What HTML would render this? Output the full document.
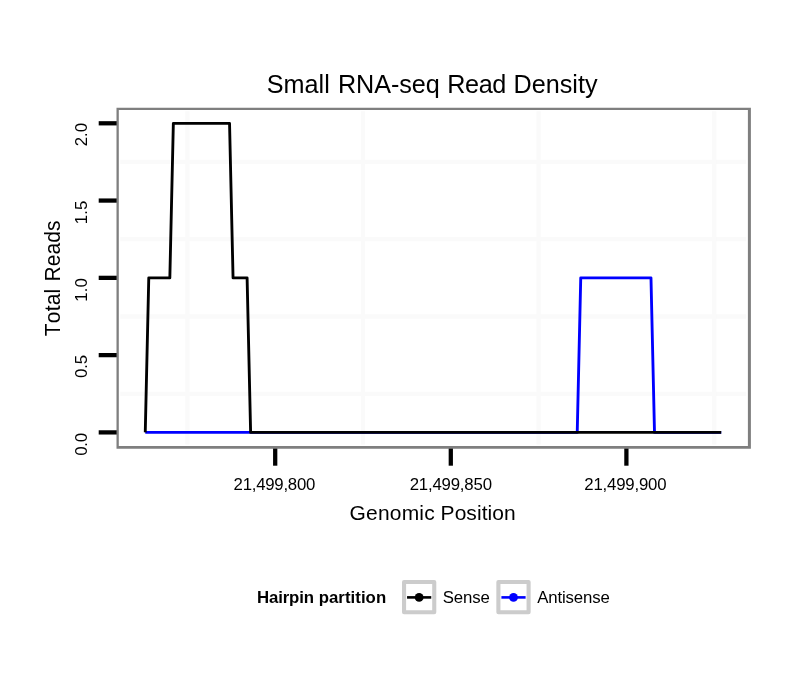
<!DOCTYPE html>
<html lang="en"><head><meta charset="utf-8"><title>Small RNA-seq Read Density</title>
<style>html,body{margin:0;padding:0;background:#fff}svg{display:block}text{font-family:"Liberation Sans",Arial,Helvetica,sans-serif;fill:#000;font-kerning:none;white-space:pre}</style></head><body>
<svg width="810" height="690" viewBox="0 0 810 690">
<rect width="810" height="690" fill="#fff"/>
<g stroke="#fafafa" stroke-width="4.27" fill="none">
<line x1="120.2" x2="746.2" y1="393.76" y2="393.76"/>
<line x1="120.2" x2="746.2" y1="316.49" y2="316.49"/>
<line x1="120.2" x2="746.2" y1="239.21" y2="239.21"/>
<line x1="120.2" x2="746.2" y1="161.94" y2="161.94"/>
<line y1="111.3" y2="444.6" x1="187.4" x2="187.4"/>
<line y1="111.3" y2="444.6" x1="363.0" x2="363.0"/>
<line y1="111.3" y2="444.6" x1="538.6" x2="538.6"/>
<line y1="111.3" y2="444.6" x1="714.2" x2="714.2"/>
</g>
<polyline points="145.26,432.4 577.23,432.4 580.74,277.85 650.98,277.85 654.5,432.4 721.22,432.4" fill="none" stroke="#0000ff" stroke-width="2.85" stroke-linejoin="round" stroke-linecap="butt"/>
<polyline points="145.26,432.4 148.77,277.85 169.84,277.85 173.35,123.3 229.54,123.3 233.06,277.85 247.1,277.85 250.62,432.4 721.22,432.4" fill="none" stroke="#000" stroke-width="2.85" stroke-linejoin="round" stroke-linecap="butt"/>
<g stroke="#000" stroke-width="4.27">
<line x1="98.7" x2="117" y1="432.4" y2="432.4"/>
<line x1="98.7" x2="117" y1="355.12" y2="355.12"/>
<line x1="98.7" x2="117" y1="277.85" y2="277.85"/>
<line x1="98.7" x2="117" y1="200.57" y2="200.57"/>
<line x1="98.7" x2="117" y1="123.3" y2="123.3"/>
<line y1="447.4" y2="465.7" x1="275.2" x2="275.2"/>
<line y1="447.4" y2="465.7" x1="450.8" x2="450.8"/>
<line y1="447.4" y2="465.7" x1="626.4" x2="626.4"/>
</g>
<path d="M116.5 107.8H750.9V448.8H116.5Z M118.8 110V445.9H747.9V110Z" fill="#7f7f7f" fill-rule="evenodd"/>
<text transform="translate(87.0,0) rotate(-90) scale(1,0.93)" y="0" font-size="16.8"><tspan x="-455.86" letter-spacing="-0.221">0.0</tspan></text>
<text transform="translate(87.0,0) rotate(-90) scale(1,0.93)" y="0" font-size="16.8"><tspan x="-377.98" letter-spacing="-0.146">0.5</tspan></text>
<text transform="translate(87.0,0) rotate(-90) scale(1,0.93)" y="0" font-size="16.8"><tspan x="-301.68" letter-spacing="0.141">1.0</tspan></text>
<text transform="translate(87.0,0) rotate(-90) scale(1,0.93)" y="0" font-size="16.8"><tspan x="-224.25" letter-spacing="0.165">1.5</tspan></text>
<text transform="translate(87.0,0) rotate(-90) scale(1,0.93)" y="0" font-size="16.8"><tspan x="-146.24" letter-spacing="-0.077">2.0</tspan></text>
<text transform="translate(0,489.9) scale(1,0.96)" y="0" font-size="16.8"><tspan x="233.56" letter-spacing="-0.242">21,499,800</tspan></text>
<text transform="translate(0,489.9) scale(1,0.96)" y="0" font-size="16.8"><tspan x="409.66" letter-spacing="-0.187">21,499,850</tspan></text>
<text transform="translate(0,489.9) scale(1,0.96)" y="0" font-size="16.8"><tspan x="584.36" letter-spacing="-0.198">21,499,900</tspan></text>
<text y="92.8" font-size="25.2"><tspan x="266.66" letter-spacing="0.054">Small</tspan> <tspan x="338.03" letter-spacing="-0.091">RNA-seq</tspan> <tspan x="447.23" letter-spacing="-0.351">Read</tspan> <tspan x="513.53" letter-spacing="-0.002">Density</tspan></text>
<text transform="translate(0,519.6) scale(1,0.966)" y="0" font-size="21"><tspan x="349.54" letter-spacing="0.197">Genomic</tspan> <tspan x="440.58" letter-spacing="0.068">Position</tspan></text>
<text transform="translate(60.3,0) rotate(-90) scale(1,1.06)" y="0" font-size="21"><tspan x="-336.32" letter-spacing="0.235">Total</tspan> <tspan x="-281.52" letter-spacing="0.07">Reads</tspan></text>
<text y="602.6" font-size="16.8" font-weight="bold"><tspan x="256.98" letter-spacing="-0.135">Hairpin</tspan> <tspan x="318.64" letter-spacing="0.051">partition</tspan></text>
<rect x="404.05" y="582.05" width="30.2" height="30.2" fill="#fff" stroke="#cccccc" stroke-width="4.1" stroke-linejoin="round"/>
<line x1="407.05" x2="431.25" y1="597.4" y2="597.4" stroke="#000" stroke-width="2.6"/>
<circle cx="419.15" cy="597.4" r="4.4" fill="#000"/>
<rect x="498.4" y="582.05" width="30.2" height="30.2" fill="#fff" stroke="#cccccc" stroke-width="4.1" stroke-linejoin="round"/>
<line x1="501.40" x2="525.60" y1="597.4" y2="597.4" stroke="#0000ff" stroke-width="2.6"/>
<circle cx="513.50" cy="597.4" r="4.4" fill="#0000ff"/>
<text y="602.6" font-size="16.8"><tspan x="442.64" letter-spacing="-0.082">Sense</tspan></text>
<text y="602.6" font-size="16.8"><tspan x="537.17" letter-spacing="-0.137">Antisense</tspan></text>
</svg></body></html>
